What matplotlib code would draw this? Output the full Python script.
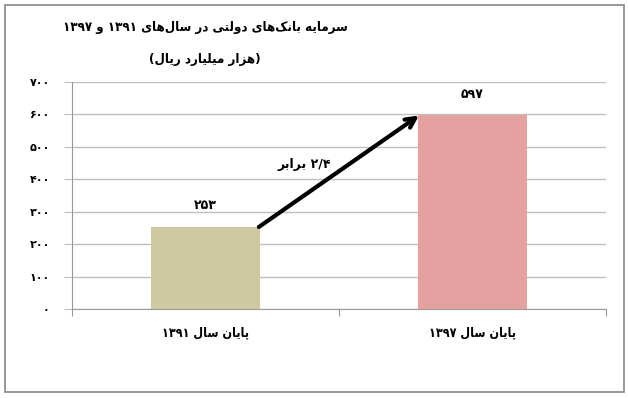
import matplotlib
matplotlib.use("Agg")
import matplotlib.pyplot as plt
from matplotlib.patches import Rectangle

# data
categories = ["پایان سال ۱۳۹۱", "پایان سال ۱۳۹۷"]
values = [253, 597]
bar_labels = ["۲۵۳", "۵۹۷"]
yticks = [0, 100, 200, 300, 400, 500, 600, 700]
ytick_labels = ["۰", "۱۰۰", "۲۰۰", "۳۰۰", "۴۰۰", "۵۰۰", "۶۰۰", "۷۰۰"]
title1 = "سرمایه بانک\u200cهای دولتی در سال\u200cهای ۱۳۹۱ و ۱۳۹۷"
title2 = "(هزار میلیارد ریال)"
ratio_label = "۲/۴ برابر"
colors = ["#CFC9A1", "#E5A0A0"]

# minimal arabic/persian shaping: isolated, final, initial, medial
FORMS = {
    "ا": ("\uFE8D", "\uFE8E", None, None),
    "ب": ("\uFE8F", "\uFE90", "\uFE91", "\uFE92"),
    "پ": ("\uFB56", "\uFB57", "\uFB58", "\uFB59"),
    "ت": ("\uFE95", "\uFE96", "\uFE97", "\uFE98"),
    "د": ("\uFEA9", "\uFEAA", None, None),
    "ر": ("\uFEAD", "\uFEAE", None, None),
    "ز": ("\uFEAF", "\uFEB0", None, None),
    "س": ("\uFEB1", "\uFEB2", "\uFEB3", "\uFEB4"),
    "ک": ("\uFB8E", "\uFB8F", "\uFB90", "\uFB91"),
    "ل": ("\uFEDD", "\uFEDE", "\uFEDF", "\uFEE0"),
    "م": ("\uFEE1", "\uFEE2", "\uFEE3", "\uFEE4"),
    "ن": ("\uFEE5", "\uFEE6", "\uFEE7", "\uFEE8"),
    "ه": ("\uFEE9", "\uFEEA", "\uFEEB", "\uFEEC"),
    "و": ("\uFEED", "\uFEEE", None, None),
    "ی": ("\uFBFC", "\uFBFD", "\uFBFE", "\uFBFF"),
}
DIGITS = set("۰۱۲۳۴۵۶۷۸۹0123456789")


def dual(c):
    return c in FORMS and FORMS[c][2] is not None


def fa(text):
    out = []
    for i, c in enumerate(text):
        if c not in FORMS:
            out.append(c)
            continue
        prev = text[i - 1] if i > 0 else ""
        nxt = text[i + 1] if i + 1 < len(text) else ""
        jp = dual(prev)
        jn = dual(c) and nxt in FORMS
        iso, fin, ini, med = FORMS[c]
        if jp and jn:
            out.append(med)
        elif jp:
            out.append(fin)
        elif jn:
            out.append(ini)
        else:
            out.append(iso)
    shaped = "".join(out).replace("\u200c", "")
    # bidi: keep number runs (digits and '/') in order, reverse the rest
    tokens = []
    for c in shaped:
        if tokens and (c in DIGITS or c == "/") and tokens[-1][0] in DIGITS:
            tokens[-1] += c
        else:
            tokens.append(c)
    vis = "".join(reversed(tokens))
    return vis.replace("(", "\0").replace(")", "(").replace("\0", ")")


plt.rcParams["font.family"] = ["DejaVu Sans"]

fig = plt.figure(figsize=(6.28, 3.98), dpi=100)
ax = fig.add_axes([72 / 628, (398 - 309) / 398, (606 - 72) / 628, (309 - 82) / 398])

x = list(range(len(values)))
ax.bar(x, values, width=0.405, color=colors, zorder=3)
ax.set_xlim(-0.5, 1.5)
ax.set_ylim(0, 700)
ax.set_yticks(yticks)
ax.set_yticklabels([fa(t) for t in ytick_labels], fontsize=8, fontweight="bold")
ax.yaxis.grid(True, color="#BFBFBF", linewidth=1, zorder=0)
ax.set_xticks([-0.5, 0.5, 1.5])
ax.set_xticklabels([])
ax.set_xticks(x, minor=True)
ax.set_xticklabels([fa(c) for c in categories], minor=True, fontsize=9, fontweight="bold",
                   fontstretch="condensed")
ax.tick_params(axis="x", which="minor", length=0, pad=12)
ax.tick_params(axis="x", which="major", length=5, color="#999999")
ax.tick_params(axis="y", length=6, color="#BFBFBF", pad=10)
for s in ["top", "right"]:
    ax.spines[s].set_visible(False)
ax.spines["left"].set_color("#999999")
ax.spines["bottom"].set_color("#999999")

for xi, v, lab in zip(x, values, bar_labels):
    ax.text(xi, v + 45, fa(lab), ha="center", va="bottom", fontsize=9, fontweight="bold")

# arrow from top right of first bar to top left of second
ax.annotate("", xy=(1 - 0.2, values[1]), xytext=(0.2, values[0]),
            arrowprops=dict(arrowstyle="->,head_length=0.7,head_width=0.35", color="black",
                            lw=3, shrinkA=0, shrinkB=0), zorder=5)
ax.text(0.37, 445, fa(ratio_label), ha="center", va="center", fontsize=9, fontweight="bold")

fig.text(205 / 628, 1 - 28 / 398, fa(title1), ha="center", va="center", fontsize=9.5,
         fontweight="bold", fontstretch="condensed")
fig.text(205 / 628, 1 - 60 / 398, fa(title2), ha="center", va="center", fontsize=9.5,
         fontweight="bold", fontstretch="condensed")

fig.patches.append(Rectangle((5 / 628, 6 / 398), 619 / 628, 387 / 398, transform=fig.transFigure,
                             fill=False, edgecolor="#888888", linewidth=1.2))

fig.savefig("out.png", dpi=100)
